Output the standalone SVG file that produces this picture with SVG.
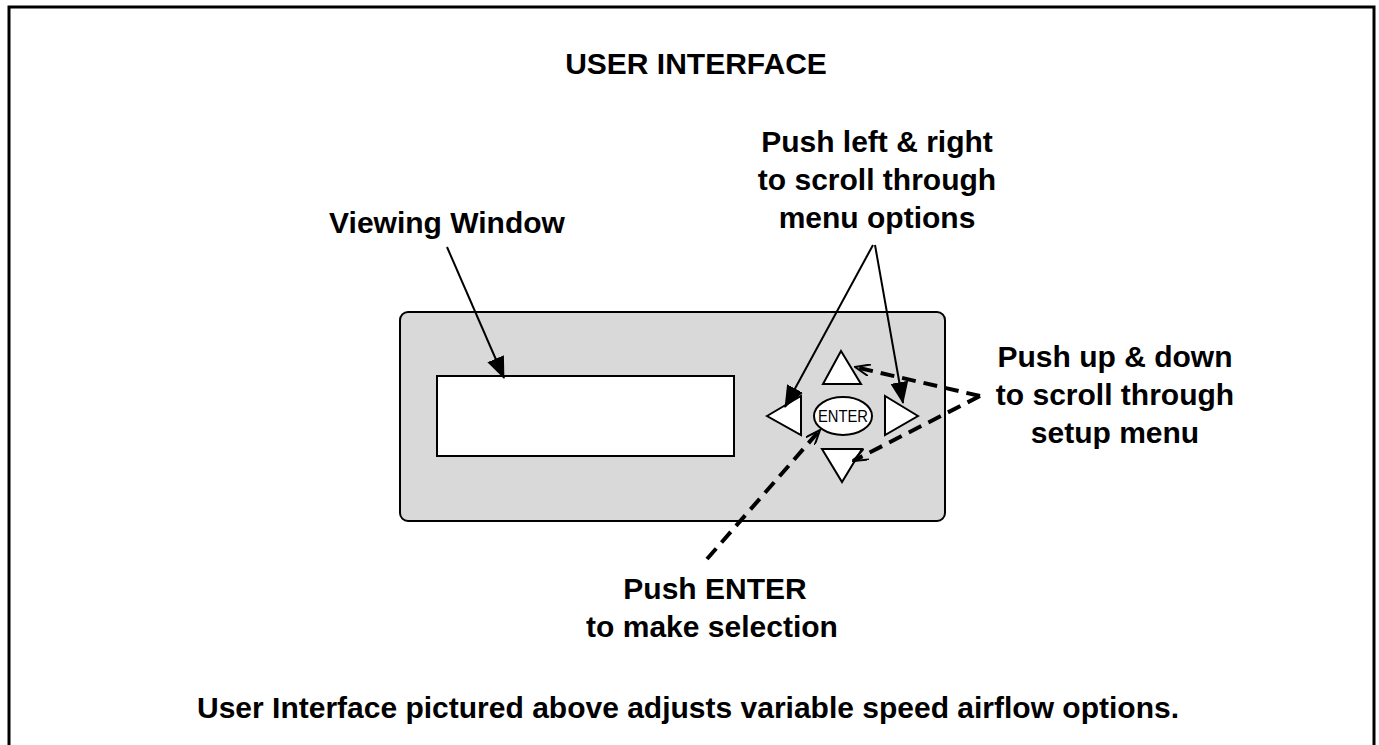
<svg xmlns="http://www.w3.org/2000/svg" width="1379" height="745" viewBox="0 0 1379 745">
<style>
.t{font-family:"Liberation Sans",Arial,sans-serif;font-weight:bold;font-size:30px;fill:#000;text-anchor:middle}
.k{fill:#fff;stroke:#000;stroke-width:2}
.a{stroke:#000;stroke-width:2;fill:none}
.d{stroke:#000;stroke-width:4;fill:none;stroke-dasharray:14 8}
</style>
<defs>
<marker id="open" markerWidth="16" markerHeight="12" refX="15" refY="6" orient="auto" markerUnits="userSpaceOnUse" viewBox="0 0 16 12">
<path d="M0,0 L15,6 L0,12" fill="none" stroke="#000" stroke-width="2"/>
</marker>
<marker id="big" markerWidth="22" markerHeight="18" refX="21" refY="9" orient="auto" markerUnits="userSpaceOnUse" viewBox="0 0 22 18">
<path d="M0,0 L22,9 L0,18 Z" fill="#000"/>
</marker>
</defs>
<rect width="1379" height="745" fill="#fff"/>
<path d="M9,745 V7 H1374 V745" fill="none" stroke="#000" stroke-width="3"/>
<text class="t" x="696" y="74">USER INTERFACE</text>

<g id="panel">
<rect x="400" y="312" width="545" height="209" rx="8" fill="#d9d9d9" stroke="#000" stroke-width="2"/>
</g>
<g id="window">
<rect x="437" y="376" width="297" height="80" class="k"/>
</g>
<g id="btn-up"><polygon points="841,351 823,384 861,384" class="k"/></g>
<g id="btn-left"><polygon points="767,416 801,396 801,435" class="k"/></g>
<g id="btn-right"><polygon points="918,416 885,396 885,435" class="k"/></g>
<g id="btn-down"><polygon points="822,449 862,449 842,482" class="k"/></g>
<g id="btn-enter">
<ellipse cx="843" cy="416" rx="29" ry="19" class="k"/>
<text x="843" y="422" font-family="'Liberation Sans',Arial,sans-serif" font-size="16" text-anchor="middle" textLength="50" lengthAdjust="spacingAndGlyphs">ENTER</text>
</g>

<g id="label-viewing"><text class="t" x="447" y="233">Viewing Window</text></g>
<g id="label-leftright">
<text class="t" x="877" y="152">Push left &amp; right</text>
<text class="t" x="877" y="190">to scroll through</text>
<text class="t" x="877" y="228">menu options</text>
</g>
<g id="label-updown">
<text class="t" x="1115" y="367">Push up &amp; down</text>
<text class="t" x="1115" y="405">to scroll through</text>
<text class="t" x="1115" y="443">setup menu</text>
</g>
<g id="label-enter">
<text class="t" x="715" y="599">Push ENTER</text>
<text class="t" x="712" y="637">to make selection</text>
</g>
<g id="caption"><text class="t" x="688" y="718">User Interface pictured above adjusts variable speed airflow options.</text></g>

<g id="connectors">
<line x1="447" y1="247" x2="504" y2="378" class="a" marker-end="url(#big)"/>
<line x1="873" y1="245" x2="785" y2="407" class="a" marker-end="url(#big)"/>
<line x1="875" y1="245" x2="903" y2="403" class="a" marker-end="url(#big)"/>
<line x1="980" y1="396" x2="855" y2="367" class="d" marker-end="url(#open)"/>
<line x1="980" y1="396" x2="853" y2="461" class="d" marker-end="url(#open)"/>
<line x1="707" y1="559" x2="820" y2="430" class="d" marker-end="url(#open)"/>
</g>
</svg>
